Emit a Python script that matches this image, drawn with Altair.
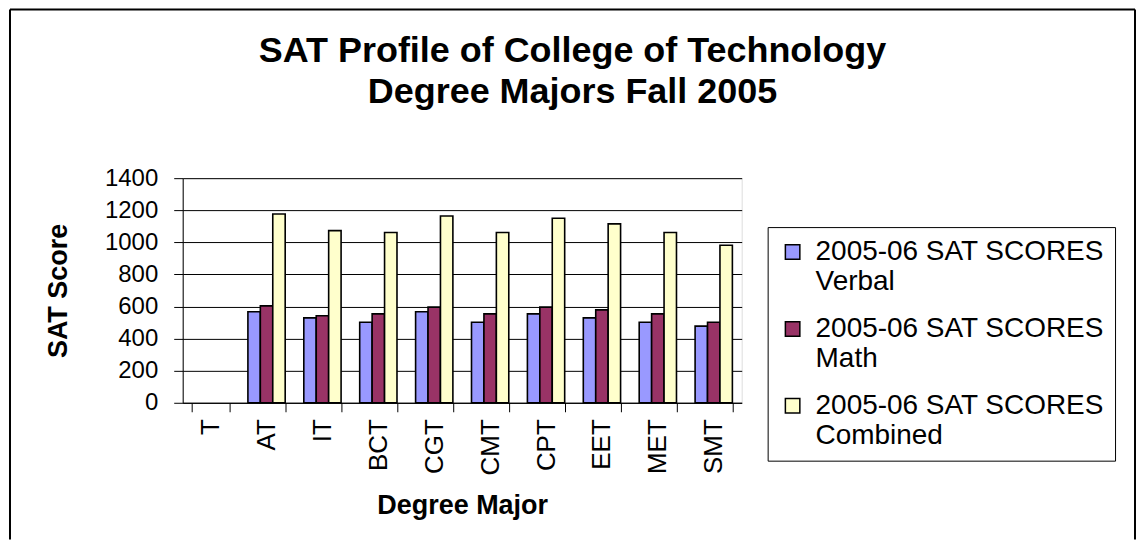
import altair as alt
import pandas as pd

# ---- data ----
categories = ["T", "AT", "IT", "BCT", "CGT", "CMT", "CPT", "EET", "MET", "SMT"]
verbal = [None, 567, 529, 502, 567, 502, 554, 529, 502, 478]
math = [None, 604, 542, 554, 596, 554, 596, 579, 554, 502]
combined = [None, 1177, 1073, 1061, 1164, 1061, 1150, 1115, 1061, 982]
series_names = [
    "2005-06 SAT SCORES|Verbal",
    "2005-06 SAT SCORES|Math",
    "2005-06 SAT SCORES|Combined",
]
series_colors = ["#9999FF", "#993366", "#FFFFCC"]
y_ticks = [0, 200, 400, 600, 800, 1000, 1200, 1400]
title_lines = ["SAT Profile of College of Technology", "Degree Majors Fall 2005"]

rows = []
for name, vals in zip(series_names, [verbal, math, combined]):
    for cat, v in zip(categories, vals):
        if v is not None:
            rows.append({"major": cat, "series": name, "score": v})
df = pd.DataFrame(rows)

FONT = "Liberation Sans"

bars = alt.Chart(df).mark_bar(stroke="black", strokeWidth=1.6).encode(
    x=alt.X(
        "major:N",
        scale=alt.Scale(domain=categories, paddingInner=0.333, paddingOuter=0.1667),
        axis=alt.Axis(
            title="Degree Major",
            labelAngle=-90,
            tickBand="extent",
            grid=False,
            labelFont=FONT,
            labelFontSize=26,
            labelColor="black",
            labelPadding=7,
            tickSize=9,
            tickColor="black",
            domainColor="black",
            titleFont=FONT,
            titleFontSize=27,
            titleFontWeight="bold",
            titleColor="black",
            titlePadding=18,
        ),
    ),
    xOffset=alt.XOffset(
        "series:N", scale=alt.Scale(domain=series_names, paddingInner=0, paddingOuter=0)
    ),
    y=alt.Y(
        "score:Q",
        scale=alt.Scale(domain=[0, 1400], nice=False),
        axis=alt.Axis(
            values=y_ticks,
            format="d",
            title="SAT Score",
            grid=True,
            gridColor="black",
            gridWidth=1,
            gridOpacity=1,
            labelFont=FONT,
            labelFontSize=24,
            labelColor="black",
            labelPadding=16,
            tickSize=9,
            tickColor="black",
            domainColor="black",
            titleFont=FONT,
            titleFontSize=27,
            titleFontWeight="bold",
            titleColor="black",
            titlePadding=32,
        ),
    ),
    color=alt.Color(
        "series:N",
        scale=alt.Scale(domain=series_names, range=series_colors),
        legend=alt.Legend(
            title=None,
            orient="none",
            legendX=586,
            legendY=49,
            labelExpr="split(datum.label, '|')",
            labelFont=FONT,
            labelFontSize=28,
            labelColor="black",
            labelLimit=500,
            labelOffset=9,
            symbolType="square",
            symbolSize=210,
            symbolStrokeColor="black",
            symbolStrokeWidth=1.5,
            symbolOpacity=1,
            strokeColor="black",
            fillColor="white",
            padding=11,
            rowPadding=19,
        ),
    ),
)

frame_df = pd.DataFrame({"k": [0]})
frame_left = alt.Chart(frame_df).mark_rule(color="black", strokeWidth=2).encode(
    x=alt.value(-173), y=alt.value(-169), y2=alt.value(362)
)
frame_top = alt.Chart(frame_df).mark_rule(color="black", strokeWidth=2).encode(
    x=alt.value(-173), x2=alt.value(954), y=alt.value(-169)
)
frame_right = alt.Chart(frame_df).mark_rule(color="black", strokeWidth=2).encode(
    x=alt.value(954), y=alt.value(-169), y2=alt.value(362)
)

chart = (
    alt.layer(bars, frame_left, frame_top, frame_right)
    .properties(
        width=560,
        height=225,
        padding={"left": 1, "top": 0, "right": 0, "bottom": 0},
        title=alt.TitleParams(
            text=title_lines,
            font=FONT,
            fontSize=36,
            fontWeight="bold",
            color="black",
            anchor="middle",
            frame="bounds",
            baseline="top",
            lineHeight=41,
            offset=-103,
        ),
    )
    .configure_view(fill="#C0C0C0", stroke="#808080", strokeWidth=1)
    .configure(background="white")
)

chart.save("out.html", embed_options={"renderer": "svg", "actions": False})
